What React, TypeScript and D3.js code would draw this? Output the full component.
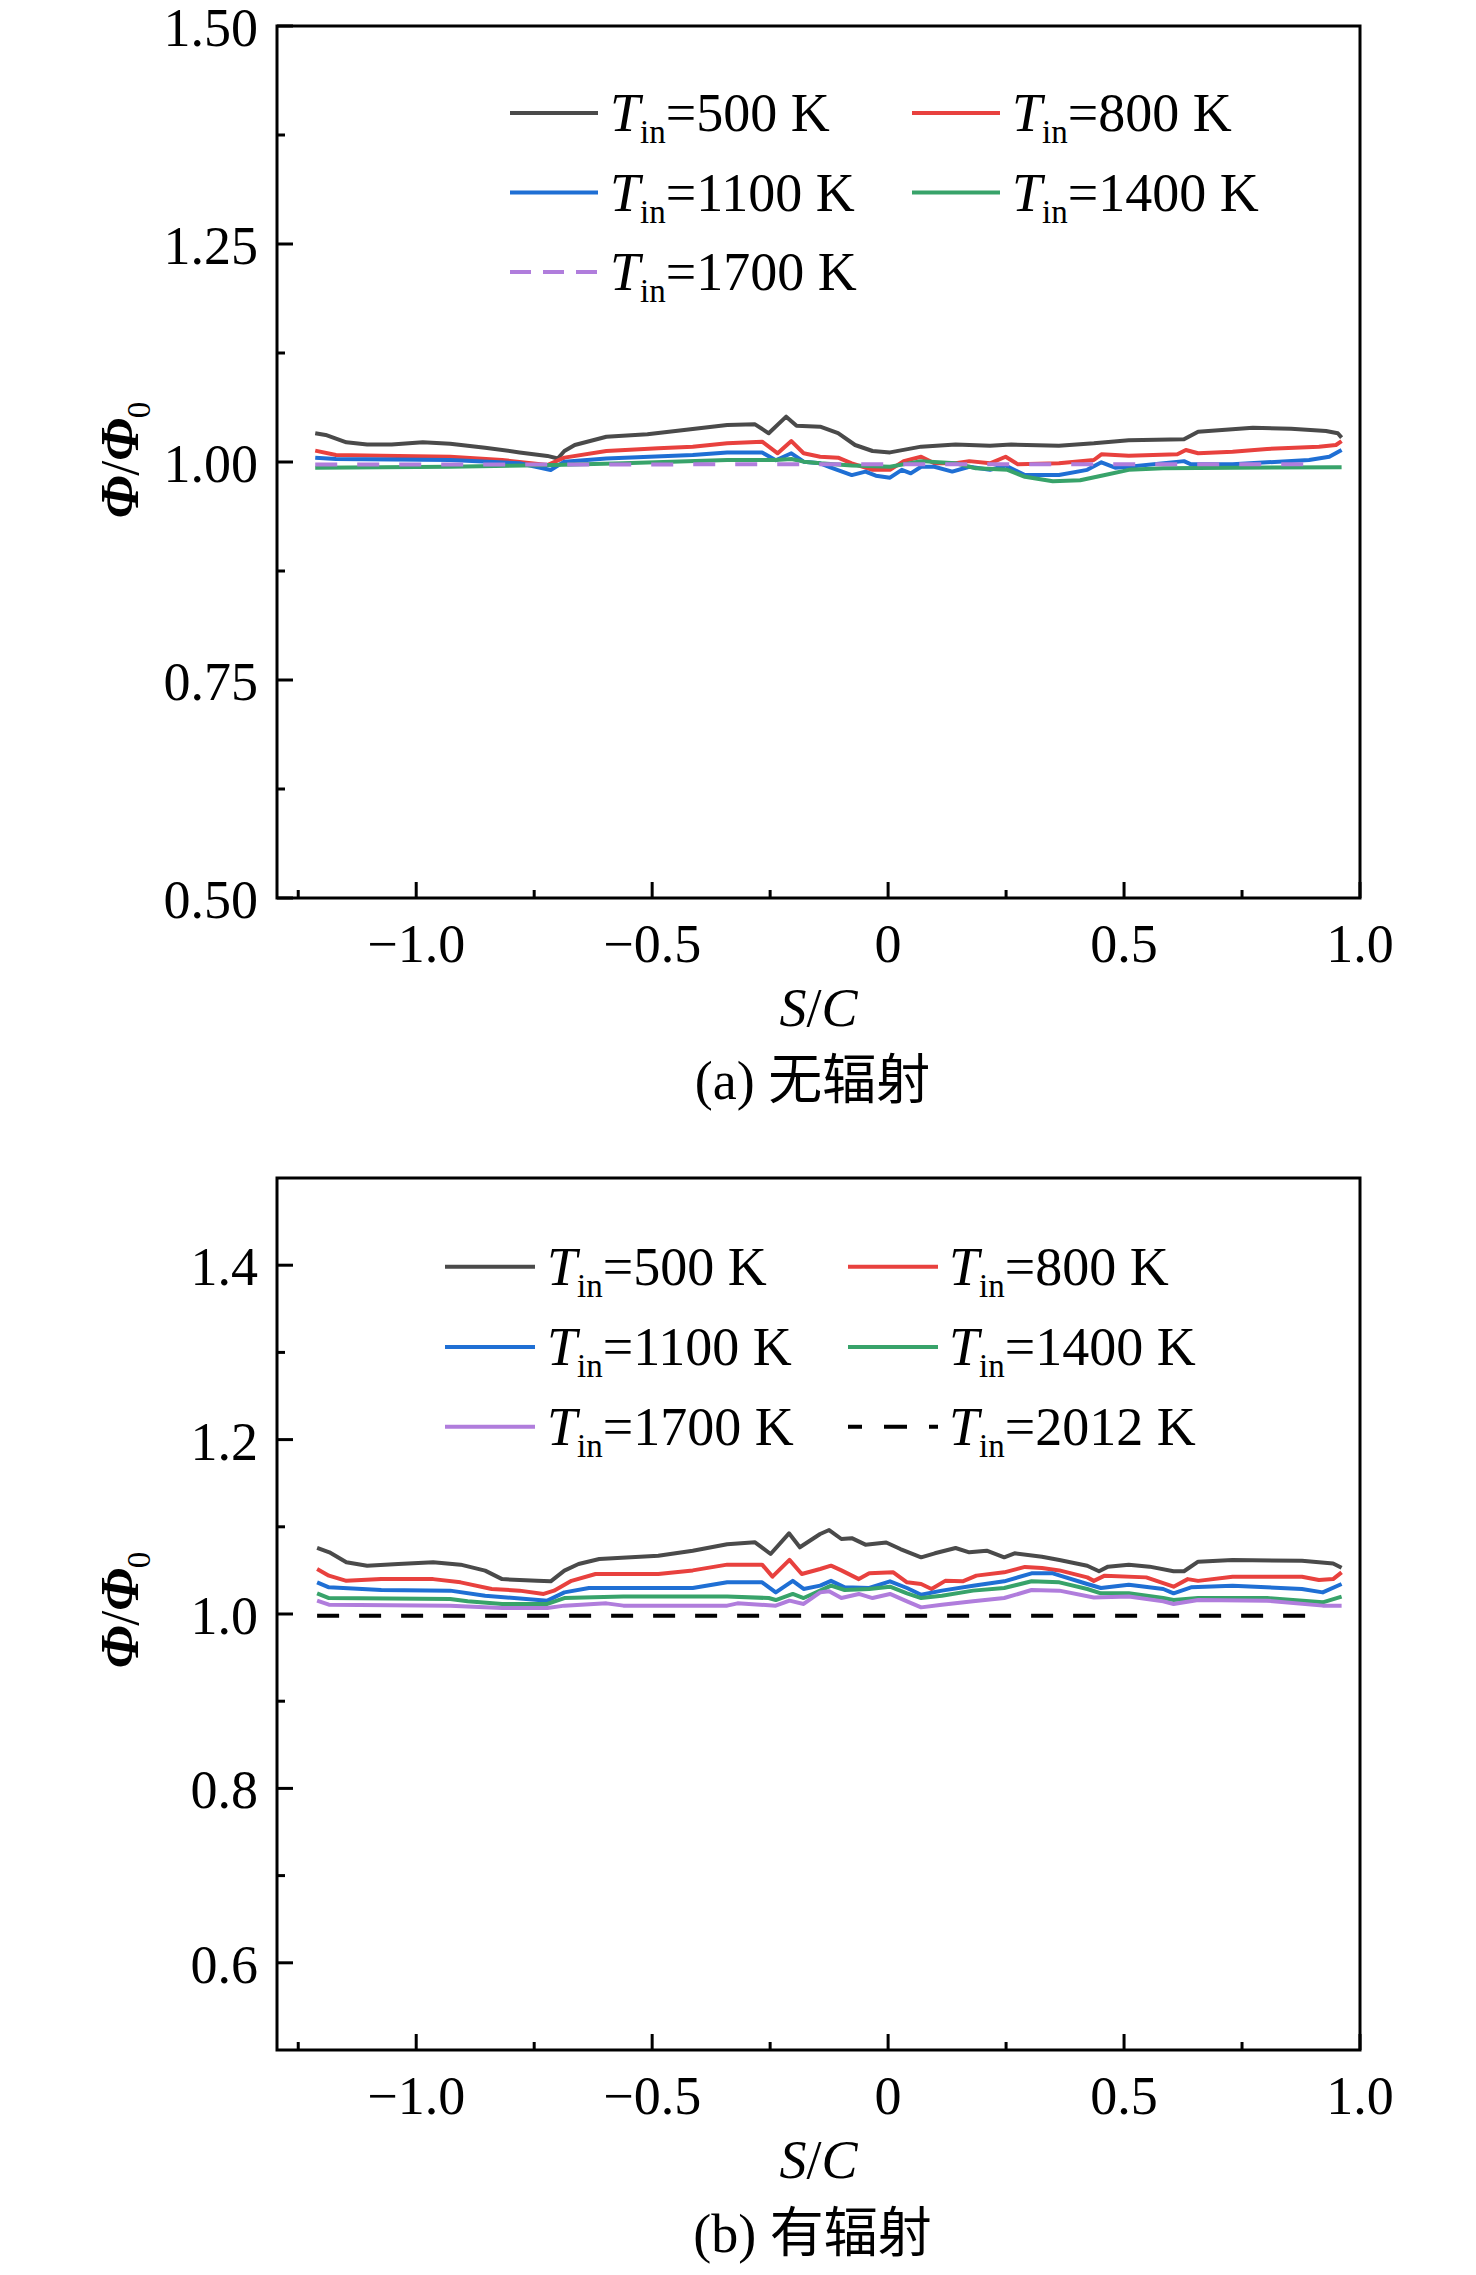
import React from 'react';
import * as d3 from 'd3';

type Pt = [number, number];

// ---------- tick data ----------
const xTicksMajor = [-1.0, -0.5, 0, 0.5, 1.0];
const xTickLabels = ['−1.0', '−0.5', '0', '0.5', '1.0'];
const xTicksMinor = [-1.25, -0.75, -0.25, 0.25, 0.75];

const aYTicksMajor = [0.5, 0.75, 1.0, 1.25, 1.5];
const aYTickLabels = ['0.50', '0.75', '1.00', '1.25', '1.50'];
const aYTicksMinor = [0.625, 0.875, 1.125, 1.375];

const bYTicksMajor = [0.6, 0.8, 1.0, 1.2, 1.4];
const bYTickLabels = ['0.6', '0.8', '1.0', '1.2', '1.4'];
const bYTicksMinor = [0.7, 0.9, 1.1, 1.3];

// ---------- panel (a) series: no radiation ----------
const a500: Pt[] = [
  [-1.214, 1.033], [-1.192, 1.031], [-1.148, 1.0226], [-1.104, 1.02], [-1.052, 1.02], [-0.986, 1.0226],
  [-0.928, 1.021], [-0.854, 1.0164], [-0.781, 1.011], [-0.722, 1.007], [-0.7, 1.004], [-0.686, 1.0126],
  [-0.664, 1.0195], [-0.597, 1.029], [-0.51, 1.0317], [-0.414, 1.0378], [-0.341, 1.0424], [-0.282, 1.0432],
  [-0.253, 1.0329], [-0.216, 1.052], [-0.194, 1.0417], [-0.144, 1.0405], [-0.106, 1.033], [-0.07, 1.0195],
  [-0.033, 1.0126], [0.004, 1.011], [0.07, 1.0176], [0.143, 1.02], [0.216, 1.0187], [0.261, 1.02],
  [0.362, 1.0187], [0.436, 1.0214], [0.51, 1.025], [0.627, 1.026], [0.657, 1.0348], [0.773, 1.0394],
  [0.854, 1.038], [0.928, 1.0356], [0.953, 1.033], [0.961, 1.028],
];
const a800: Pt[] = [
  [-1.214, 1.013], [-1.17, 1.008], [-1.074, 1.0073], [-0.928, 1.006], [-0.818, 1.0023], [-0.722, 0.9966],
  [-0.686, 1.005], [-0.597, 1.0126], [-0.487, 1.0157], [-0.414, 1.0176], [-0.341, 1.0214], [-0.267, 1.0233],
  [-0.234, 1.01], [-0.205, 1.024], [-0.179, 1.01], [-0.144, 1.006], [-0.106, 1.005], [-0.077, 0.9985],
  [-0.033, 0.991], [0.004, 0.991], [0.033, 1.001], [0.07, 1.006], [0.098, 0.9985], [0.143, 0.9985],
  [0.172, 1.001], [0.216, 0.9985], [0.249, 1.006], [0.275, 0.9973], [0.362, 0.9985], [0.436, 1.0023],
  [0.452, 1.0088], [0.51, 1.0073], [0.613, 1.0088], [0.631, 1.0138], [0.657, 1.01], [0.73, 1.0118],
  [0.803, 1.015], [0.913, 1.0176], [0.949, 1.0195], [0.961, 1.024],
];
const a1100: Pt[] = [
  [-1.214, 1.005], [-1.17, 1.0034], [-0.928, 1.0023], [-0.781, 0.9985], [-0.715, 0.9908], [-0.686, 1.0004],
  [-0.597, 1.004], [-0.414, 1.008], [-0.341, 1.011], [-0.267, 1.011], [-0.238, 1.002], [-0.205, 1.01],
  [-0.179, 1.0004], [-0.144, 0.9985], [-0.121, 0.9935], [-0.077, 0.985], [-0.048, 0.989], [-0.026, 0.9843],
  [0.004, 0.982], [0.029, 0.991], [0.048, 0.987], [0.07, 0.9946], [0.098, 0.9946], [0.136, 0.989],
  [0.172, 0.9946], [0.216, 0.991], [0.249, 0.996], [0.29, 0.985], [0.362, 0.985], [0.422, 0.991],
  [0.452, 0.9996], [0.481, 0.9935], [0.51, 0.9946], [0.627, 1.001], [0.642, 0.9973], [0.73, 0.9973],
  [0.803, 0.9996], [0.892, 1.0023], [0.935, 1.006], [0.961, 1.0138],
];
const a1400: Pt[] = [
  [-1.214, 0.9935], [-0.928, 0.9946], [-0.708, 0.9966], [-0.561, 0.9985], [-0.341, 1.0023], [-0.238, 1.0023],
  [-0.205, 1.0034], [-0.179, 1.0004], [-0.144, 0.9985], [-0.077, 0.996], [0.004, 0.9946], [0.07, 1.001],
  [0.143, 0.9985], [0.186, 0.9927], [0.253, 0.991], [0.29, 0.983], [0.349, 0.978], [0.407, 0.979],
  [0.452, 0.9843], [0.51, 0.991], [0.583, 0.9927], [0.73, 0.9935], [0.961, 0.9939],
];
const a1700: Pt[] = [
  [-1.214, 0.997], [-0.7, 0.997], [-0.2, 0.9975], [0.3, 0.9973], [0.909, 0.9975],
];

// ---------- panel (b) series: with radiation ----------
const b500: Pt[] = [
  [-1.21, 1.0757], [-1.184, 1.0707], [-1.148, 1.0593], [-1.104, 1.0554], [-1.038, 1.0573], [-0.964, 1.0593],
  [-0.906, 1.0566], [-0.854, 1.0497], [-0.818, 1.04], [-0.744, 1.038], [-0.715, 1.0375], [-0.686, 1.0497],
  [-0.656, 1.0573], [-0.612, 1.063], [-0.487, 1.0669], [-0.414, 1.0726], [-0.341, 1.08], [-0.282, 1.0822],
  [-0.249, 1.0688], [-0.21, 1.0925], [-0.187, 1.0765], [-0.144, 1.0917], [-0.125, 1.0963], [-0.099, 1.086],
  [-0.077, 1.087], [-0.048, 1.0795], [-0.004, 1.082], [0.026, 1.0745], [0.07, 1.065], [0.099, 1.0696],
  [0.143, 1.0757], [0.172, 1.0707], [0.209, 1.0726], [0.246, 1.065], [0.268, 1.0696], [0.326, 1.0657],
  [0.363, 1.062], [0.422, 1.0554], [0.447, 1.049], [0.466, 1.0543], [0.51, 1.0566], [0.554, 1.0543],
  [0.605, 1.049], [0.627, 1.049], [0.657, 1.06], [0.73, 1.062], [0.877, 1.061], [0.943, 1.058], [0.961, 1.053],
];
const b800: Pt[] = [
  [-1.21, 1.0516], [-1.185, 1.044], [-1.148, 1.038], [-1.074, 1.04], [-0.964, 1.04], [-0.906, 1.0363],
  [-0.84, 1.0287], [-0.781, 1.0268], [-0.73, 1.023], [-0.708, 1.0268], [-0.671, 1.038], [-0.62, 1.0459],
  [-0.487, 1.0459], [-0.414, 1.05], [-0.341, 1.0566], [-0.267, 1.0566], [-0.245, 1.0428], [-0.209, 1.062],
  [-0.183, 1.0459], [-0.144, 1.0516], [-0.121, 1.0554], [-0.099, 1.05], [-0.062, 1.04], [-0.04, 1.0466],
  [0.011, 1.0478], [0.04, 1.0363], [0.07, 1.0344], [0.092, 1.0287], [0.121, 1.038], [0.158, 1.0375],
  [0.187, 1.044], [0.246, 1.0478], [0.29, 1.054], [0.326, 1.0528], [0.363, 1.05], [0.422, 1.042],
  [0.436, 1.038], [0.459, 1.044], [0.547, 1.042], [0.605, 1.0313], [0.635, 1.04], [0.657, 1.038],
  [0.73, 1.0428], [0.877, 1.0428], [0.913, 1.039], [0.943, 1.04], [0.961, 1.0478],
];
const b1100: Pt[] = [
  [-1.21, 1.0363], [-1.185, 1.0306], [-1.074, 1.0275], [-0.928, 1.0268], [-0.854, 1.021], [-0.722, 1.0153],
  [-0.686, 1.0248], [-0.634, 1.0298], [-0.414, 1.0298], [-0.341, 1.0363], [-0.267, 1.0363], [-0.238, 1.0248],
  [-0.202, 1.038], [-0.179, 1.0287], [-0.144, 1.0325], [-0.121, 1.038], [-0.092, 1.0306], [-0.04, 1.0298],
  [0.004, 1.0375], [0.04, 1.0298], [0.07, 1.022], [0.114, 1.0268], [0.18, 1.0325], [0.246, 1.0375],
  [0.304, 1.0466], [0.349, 1.0466], [0.422, 1.0344], [0.451, 1.0298], [0.51, 1.0336], [0.583, 1.0287],
  [0.605, 1.0237], [0.642, 1.0306], [0.73, 1.0325], [0.877, 1.0287], [0.921, 1.0248], [0.961, 1.0344],
];
const b1400: Pt[] = [
  [-1.21, 1.0237], [-1.185, 1.0183], [-0.928, 1.0172], [-0.891, 1.0145], [-0.818, 1.0115], [-0.722, 1.0115],
  [-0.686, 1.0183], [-0.561, 1.02], [-0.341, 1.02], [-0.253, 1.0183], [-0.238, 1.016], [-0.202, 1.023],
  [-0.179, 1.0183], [-0.144, 1.0268], [-0.121, 1.0325], [-0.092, 1.0275], [-0.04, 1.0287], [0.004, 1.0313],
  [0.04, 1.0237], [0.07, 1.0183], [0.114, 1.021], [0.18, 1.0268], [0.246, 1.0298], [0.304, 1.0375],
  [0.363, 1.0363], [0.422, 1.0287], [0.451, 1.0237], [0.51, 1.0237], [0.583, 1.0183], [0.605, 1.016],
  [0.657, 1.0183], [0.803, 1.0183], [0.921, 1.0134], [0.961, 1.02],
];
const b1700: Pt[] = [
  [-1.21, 1.0153], [-1.185, 1.0107], [-0.928, 1.0096], [-0.818, 1.0069], [-0.722, 1.0069], [-0.686, 1.0096],
  [-0.597, 1.0122], [-0.561, 1.0096], [-0.341, 1.0096], [-0.319, 1.0122], [-0.238, 1.0096], [-0.209, 1.0153],
  [-0.179, 1.0115], [-0.144, 1.0248], [-0.125, 1.026], [-0.099, 1.0183], [-0.062, 1.023], [-0.033, 1.0183],
  [0.004, 1.023], [0.04, 1.0145], [0.07, 1.0076], [0.114, 1.0107], [0.18, 1.0145], [0.246, 1.0183],
  [0.304, 1.0275], [0.363, 1.0268], [0.436, 1.019], [0.51, 1.02], [0.583, 1.0145], [0.605, 1.0115],
  [0.657, 1.016], [0.803, 1.0153], [0.921, 1.0096], [0.961, 1.0096],
];
const b2012: Pt[] = [
  [-1.21, 0.998], [0.909, 0.998],
];

const legendLabels = ['500', '800', '1100', '1400', '1700', '2012'];

// ---------- styling ----------
const COLORS = {
  k500: '#4a4a4a',
  k800: '#e8413e',
  k1100: '#1f6fd4',
  k1400: '#38a36a',
  k1700: '#b07ddc',
  k2012: '#000000',
};
const SERIF = '"Liberation Serif", "Times New Roman", serif';
const CJK = '"Noto Sans CJK SC", sans-serif';

interface Series {
  label: string;
  data: Pt[];
  color: string;
  dash?: string;
  legendDash?: string;
  legendDashOffset?: number;
}

interface PanelCfg {
  top: number;
  bottom: number;
  yMajor: number[];
  yLabels: string[];
  yMinor: number[];
  series: Series[];
  legendRows: number[];
  legendCols: { x0: number; x1: number; tx: number }[];
  titleY: number;
  captionY: number;
  captionTag: string;
  captionText: string;
  yTitleCenter: number;
}

const LEFT = 277;
const RIGHT = 1360;

const panels: PanelCfg[] = [
  {
    top: 26,
    bottom: 898,
    yMajor: aYTicksMajor,
    yLabels: aYTickLabels,
    yMinor: aYTicksMinor,
    series: [
      { label: legendLabels[0], data: a500, color: COLORS.k500 },
      { label: legendLabels[1], data: a800, color: COLORS.k800 },
      { label: legendLabels[2], data: a1100, color: COLORS.k1100 },
      { label: legendLabels[3], data: a1400, color: COLORS.k1400 },
      { label: legendLabels[4], data: a1700, color: COLORS.k1700, dash: '22,20', legendDash: '21,12' },
    ],
    legendRows: [113, 192.5, 272],
    legendCols: [
      { x0: 510, x1: 598, tx: 610 },
      { x0: 912, x1: 1000, tx: 1012 },
    ],
    titleY: 1026,
    captionY: 1099,
    captionTag: '(a) ',
    captionText: '无辐射',
    yTitleCenter: 460,
  },
  {
    top: 1178,
    bottom: 2050,
    yMajor: bYTicksMajor,
    yLabels: bYTickLabels,
    yMinor: bYTicksMinor,
    series: [
      { label: legendLabels[0], data: b500, color: COLORS.k500 },
      { label: legendLabels[1], data: b800, color: COLORS.k800 },
      { label: legendLabels[2], data: b1100, color: COLORS.k1100 },
      { label: legendLabels[3], data: b1400, color: COLORS.k1400 },
      { label: legendLabels[4], data: b1700, color: COLORS.k1700 },
      { label: legendLabels[5], data: b2012, color: COLORS.k2012, dash: '22,20', legendDash: '23,22', legendDashOffset: 9 },
    ],
    legendRows: [1266.7, 1347, 1426.7],
    legendCols: [
      { x0: 445, x1: 535, tx: 547 },
      { x0: 848, x1: 938, tx: 949 },
    ],
    titleY: 2178,
    captionY: 2252,
    captionTag: '(b) ',
    captionText: '有辐射',
    yTitleCenter: 1610,
  },
];

const FS = 54;
const SUB = 33;

function Panel({ cfg }: { cfg: PanelCfg }) {
  const x = d3.scaleLinear().domain([-1.295, 1.0]).range([LEFT, RIGHT]);
  const y = d3.scaleLinear().domain([0.5, 1.5]).range([cfg.bottom, cfg.top]);
  const line = d3
    .line<Pt>()
    .x((d) => x(d[0]))
    .y((d) => y(d[1]));
  const cx = (LEFT + RIGHT) / 2;

  return (
    <g>
      {/* data */}
      {cfg.series.map((s, i) => (
        <path
          key={'s' + i}
          d={line(s.data) || ''}
          fill="none"
          stroke={s.color}
          strokeWidth={4}
          strokeDasharray={s.dash}
          strokeLinejoin="round"
        />
      ))}
      {/* frame */}
      <rect
        x={LEFT}
        y={cfg.top}
        width={RIGHT - LEFT}
        height={cfg.bottom - cfg.top}
        fill="none"
        stroke="#000"
        strokeWidth={3}
      />
      {/* x ticks */}
      {xTicksMajor.map((t, i) => (
        <g key={'xt' + i}>
          <line x1={x(t)} x2={x(t)} y1={cfg.bottom} y2={cfg.bottom - 16} stroke="#000" strokeWidth={3} />
          <text
            x={x(t)}
            y={cfg.bottom + 64}
            textAnchor="middle"
            fontFamily={SERIF}
            fontSize={FS}
            fill="#000"
          >
            {xTickLabels[i]}
          </text>
        </g>
      ))}
      {xTicksMinor.map((t, i) => (
        <line key={'xm' + i} x1={x(t)} x2={x(t)} y1={cfg.bottom} y2={cfg.bottom - 8} stroke="#000" strokeWidth={3} />
      ))}
      {/* y ticks */}
      {cfg.yMajor.map((t, i) => (
        <g key={'yt' + i}>
          <line x1={LEFT} x2={LEFT + 16} y1={y(t)} y2={y(t)} stroke="#000" strokeWidth={3} />
          <text x={258} y={y(t) + 20} textAnchor="end" fontFamily={SERIF} fontSize={FS} fill="#000">
            {cfg.yLabels[i]}
          </text>
        </g>
      ))}
      {cfg.yMinor.map((t, i) => (
        <line key={'ym' + i} x1={LEFT} x2={LEFT + 8} y1={y(t)} y2={y(t)} stroke="#000" strokeWidth={3} />
      ))}
      {/* legend */}
      {cfg.series.map((s, i) => {
        const col = cfg.legendCols[i % 2];
        const ry = cfg.legendRows[Math.floor(i / 2)];
        return (
          <g key={'lg' + i}>
            <line
              x1={col.x0}
              x2={col.x1}
              y1={ry}
              y2={ry}
              stroke={s.color}
              strokeWidth={4}
              strokeDasharray={s.legendDash}
              strokeDashoffset={s.legendDashOffset || 0}
            />
            <text x={col.tx} y={ry + 18} fontFamily={SERIF} fontSize={FS} fill="#000">
              <tspan fontStyle="italic">T</tspan>
              <tspan fontSize={SUB} dy={12}>in</tspan>
              <tspan dy={-12}>{'=' + s.label + ' K'}</tspan>
            </text>
          </g>
        );
      })}
      {/* axis titles */}
      <text x={cx} y={cfg.titleY} textAnchor="middle" fontFamily={SERIF} fontSize={FS} fill="#000">
        <tspan fontStyle="italic">S</tspan>
        <tspan>/</tspan>
        <tspan fontStyle="italic">C</tspan>
      </text>
      <text
        transform={`translate(138, ${cfg.yTitleCenter}) rotate(-90)`}
        textAnchor="middle"
        fontFamily={SERIF}
        fontSize={FS}
        fill="#000"
      >
        <tspan fontStyle="italic" fontWeight="bold">Φ</tspan>
        <tspan>/</tspan>
        <tspan fontStyle="italic" fontWeight="bold">Φ</tspan>
        <tspan fontSize={SUB} dy={12}>0</tspan>
      </text>
      {/* caption */}
      <text x={cx - 6} y={cfg.captionY} textAnchor="middle" fontSize={FS} fill="#000">
        <tspan fontFamily={SERIF}>{cfg.captionTag}</tspan>
        <tspan fontFamily={CJK}>{cfg.captionText}</tspan>
      </text>
    </g>
  );
}

export default function App() {
  return (
    <div style={{ position: 'absolute', left: 0, top: 0 }}>
      <svg width={1476} height={2275} viewBox="0 0 1476 2275" style={{ display: 'block', background: '#fff' }}>
        <rect x={0} y={0} width={1476} height={2275} fill="#fff" />
        {panels.map((p, i) => (
          <Panel key={i} cfg={p} />
        ))}
      </svg>
    </div>
  );
}
